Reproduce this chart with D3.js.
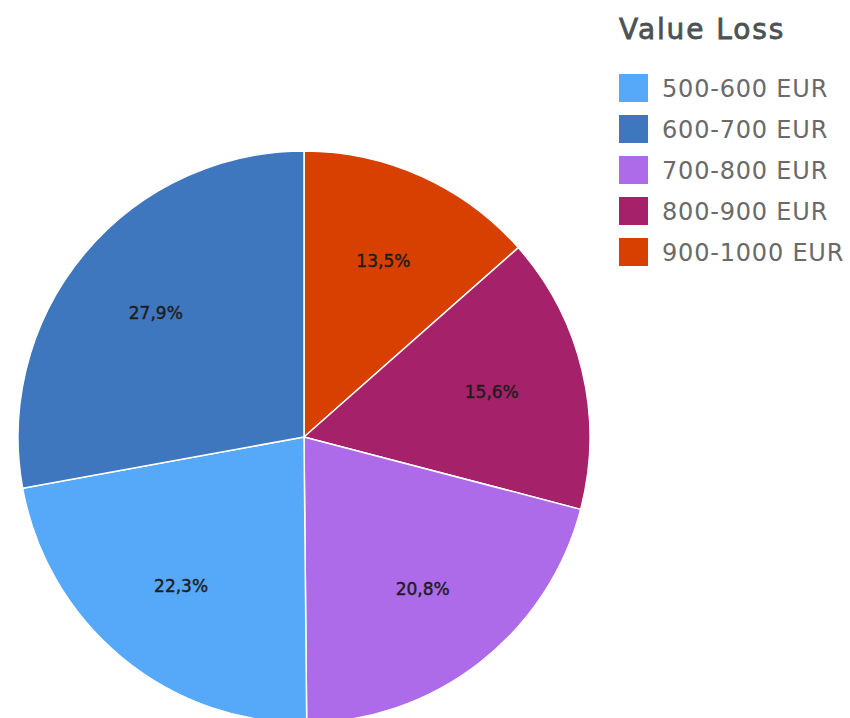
<!DOCTYPE html>
<html>
<head>
<meta charset="utf-8">
<script src="https://cdn.jsdelivr.net/npm/d3@7"></script>
<style>
  html, body { margin: 0; padding: 0; background: #ffffff; }
  svg { display: block; }
</style>
</head>
<body>
<svg id="chart" width="850" height="718"></svg>
<script>
// Value loss distribution
const categories = ["500-600 EUR", "600-700 EUR", "700-800 EUR", "800-900 EUR", "900-1000 EUR"];
const values = [22.3, 27.9, 20.8, 15.6, 13.5];
const colors = ["#56a8f8", "#3f77bf", "#ad6be9", "#a52169", "#d74000"];
// slices run clockwise from twelve o'clock in this order
const sliceOrder = ["900-1000 EUR", "800-900 EUR", "700-800 EUR", "500-600 EUR", "600-700 EUR"];
const legendTitle = "Value Loss";

const svg = d3.select("#chart");
const cx = 304, cy = 437, radius = 286;

const color = d3.scaleOrdinal().domain(categories).range(colors);
const rows = categories.map((c, i) => ({ category: c, value: values[i] }));
const ordered = sliceOrder.map(c => rows.find(r => r.category === c));

const pie = d3.pie().sort(null).value(d => d.value);
const arcs = pie(ordered);

const arc = d3.arc().innerRadius(0).outerRadius(radius);
const labelArc = d3.arc().innerRadius(193).outerRadius(193);

const locale = d3.formatLocale({ decimal: ",", thousands: ".", grouping: [3], currency: ["", " €"] });
const fmt = locale.format(".1f");

const g = svg.append("g").attr("transform", `translate(${cx},${cy})`);

g.selectAll("path.slice")
  .data(arcs)
  .join("path")
  .attr("class", "slice")
  .attr("d", arc)
  .attr("fill", d => color(d.data.category))
  .attr("stroke", "#ffffff")
  .attr("stroke-width", 1.5)
  .attr("stroke-linejoin", "round");

g.selectAll("text.pct")
  .data(arcs)
  .join("text")
  .attr("class", "pct")
  .attr("transform", d => `translate(${labelArc.centroid(d)})`)
  .attr("text-anchor", "middle")
  .attr("dominant-baseline", "central")
  .attr("font-family", "DejaVu Sans, sans-serif")
  .attr("font-size", 17)
  .attr("fill", "#1e1e1e")
  .attr("stroke", "#1e1e1e")
  .attr("stroke-width", 0.45)
  .text(d => fmt(d.data.value) + "%");

// legend
const legend = svg.append("g").attr("transform", "translate(619,0)");
legend.append("text")
  .attr("x", 0)
  .attr("y", 39)
  .attr("font-family", "DejaVu Sans, sans-serif")
  .attr("font-size", 28)
  .attr("letter-spacing", 1.9)
  .attr("fill", "#4b5253")
  .attr("stroke", "#4b5253")
  .attr("stroke-width", 0.8)
  .text(legendTitle);

const items = legend.selectAll("g.item")
  .data(categories)
  .join("g")
  .attr("class", "item")
  .attr("transform", (d, i) => `translate(0,${74 + i * 41})`);

items.append("rect")
  .attr("width", 29)
  .attr("height", 28)
  .attr("fill", d => color(d));

items.append("text")
  .attr("x", 43)
  .attr("y", 14.5)
  .attr("dominant-baseline", "central")
  .attr("font-family", "DejaVu Sans, sans-serif")
  .attr("font-size", 24)
  .attr("letter-spacing", 0.8)
  .attr("fill", "#6a6a6a")
  .text(d => d);
</script>
</body>
</html>
